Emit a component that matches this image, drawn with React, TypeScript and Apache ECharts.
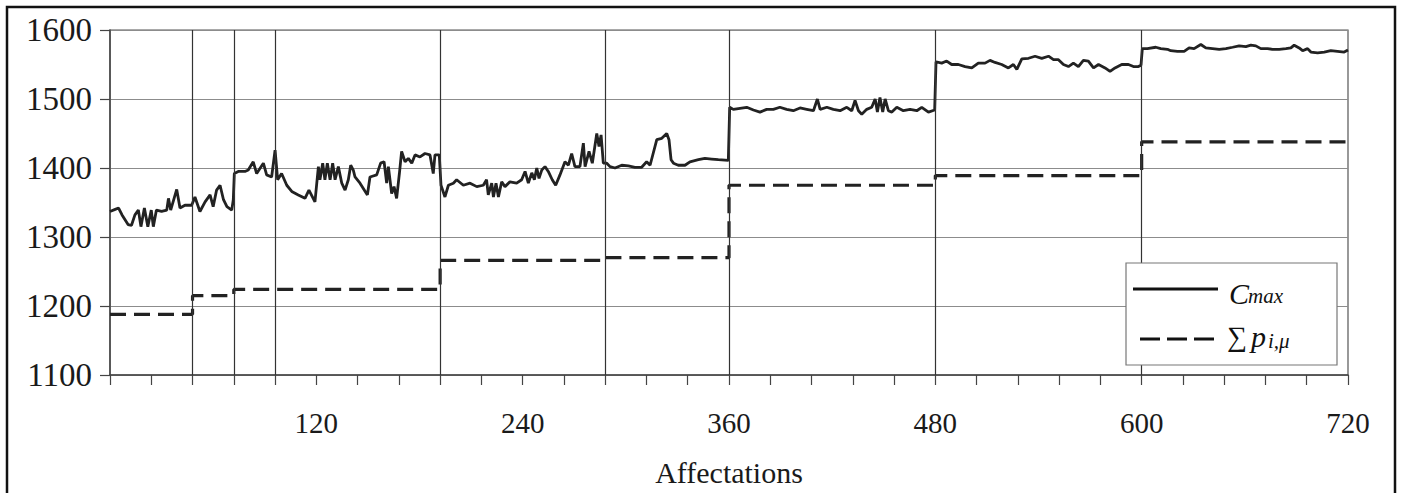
import React, { useEffect, useRef } from "react";
import * as echarts from "echarts";

// C_max curve: x (affectation index) and value
const cmaxX = [
  0, 3, 5, 7, 10.5, 12.5, 14.5, 16.5, 18, 20, 22, 24, 25.2, 27, 30, 33, 34, 35.3, 38.8, 40.7,
  43.6, 47.5, 49.4, 52.3, 55.3, 58.2, 60, 62, 64, 66, 68, 70.8, 71.7, 72.3, 74.6, 78.5, 80.4, 83.3,
  85.3, 89.2, 91.1, 94, 96, 97.5, 99.8, 102.8, 105.7, 109.5, 113.4, 115.7, 119.2, 121.2, 122.1,
  123.7, 125, 126.4, 128, 129.5, 130.9, 132.8, 134.8, 136.7, 138.6, 140, 141.5, 142.5, 145.4,
  149.7, 151.2, 155.1, 157.4, 159.4, 160.9, 161.9, 163.8, 165.2, 166.7, 168.3, 169.6, 171.6,
  173.5, 175.5, 177.4, 180.3, 183.2, 186.1, 188, 189, 191.5, 192.5, 194.8, 196.8, 199.7, 201.6,
  205.5, 209.4, 213.3, 217.1, 219, 220, 222, 223, 224.5, 225.9, 227.8, 229.7, 232.6, 236.5,
  239.4, 241.4, 243.3, 245.3, 246.8, 248.2, 249.5, 251.1, 253, 254.9, 257.2, 259.2, 261.7,
  264.6, 266.6, 268.5, 270.4, 273.3, 275.3, 276.3, 278.6, 280.5, 283.1, 284.4, 285.6, 286.9,
  288.9, 290.8, 293.7, 297.6, 301.5, 305.3, 309.2, 312.1, 314.1, 318, 320.9, 323.8, 325.1,
  326.3, 327.7, 330.5, 334.4, 337.3, 342.2, 346, 349.9, 353.8, 359.6, 360.4, 362.5, 370.3,
  374.2, 378, 381.9, 385.8, 389.6, 393.5, 397.4, 401.3, 405.2, 409.1, 411.4, 413, 416.9, 420.7,
  424.6, 428.5, 431.4, 433.3, 435.3, 437.2, 440.1, 443, 445, 446.3, 447.8, 449.4, 450.8, 452.7,
  454.7, 457.6, 461.4, 465.3, 469.2, 472.1, 476, 479.6, 480.4, 483.7, 486.6, 489.5, 493.4,
  497.3, 501.2, 505, 508.9, 511.8, 514.7, 518.6, 522.5, 525.4, 527.4, 530.3, 534.2, 538, 541.9,
  545.8, 548.7, 551.6, 554.5, 557.4, 560.3, 563.2, 566.1, 569, 572, 574.9, 578.7, 581.6, 584.5,
  588.4, 592.3, 595.2, 598.1, 599.6, 600.4, 603.3, 608.2, 611.1, 615, 616.9, 620.8, 624.7,
  627.6, 630.5, 634.4, 637.3, 641.2, 645.1, 649, 652.9, 656.7, 660.6, 663.5, 666.4, 669.3,
  673.2, 676.1, 680, 683.9, 686.8, 688.7, 691.6, 693.6, 696.5, 698.4, 702.3, 706.2, 710, 713.9,
  717.8, 720,
];
const cmaxY = [
  1337, 1340, 1342, 1332, 1318, 1317, 1332, 1339, 1315, 1342, 1315, 1339, 1315, 1339, 1337, 1339,
  1356, 1339, 1369, 1342, 1346, 1346, 1358, 1337, 1351, 1361, 1344, 1368, 1375, 1354, 1344, 1339,
  1354, 1392, 1395, 1395, 1397, 1409, 1392, 1407, 1390, 1387, 1426, 1383, 1392, 1375, 1366, 1361,
  1356, 1368, 1351, 1402, 1383, 1407, 1383, 1407, 1383, 1407, 1383, 1402, 1378, 1368, 1383, 1404,
  1397, 1387, 1378, 1361, 1387, 1390, 1407, 1409, 1378, 1402, 1363, 1373, 1356, 1392, 1424, 1409,
  1414, 1407, 1419, 1416, 1421, 1419, 1392, 1419, 1419, 1375, 1358, 1375, 1378, 1383, 1375, 1378,
  1373, 1375, 1383, 1361, 1378, 1358, 1378, 1358, 1380, 1373, 1380, 1378, 1383, 1395, 1378, 1393,
  1383, 1400, 1385, 1397, 1402, 1395, 1383, 1375, 1390, 1409, 1404, 1421, 1402, 1402, 1436, 1402,
  1424, 1407, 1450, 1431, 1448, 1407, 1407, 1402, 1400, 1404, 1403, 1401, 1401, 1409, 1404, 1441,
  1443, 1450, 1441, 1412, 1407, 1404, 1404, 1409, 1412, 1414, 1413, 1412, 1411, 1488, 1485, 1488,
  1484, 1481, 1485, 1485, 1488, 1485, 1483, 1487, 1485, 1483, 1500, 1485, 1488, 1485, 1483, 1488,
  1483, 1498, 1483, 1478, 1485, 1488, 1500, 1481, 1502, 1481, 1500, 1483, 1481, 1488, 1483, 1485,
  1483, 1488, 1481, 1484, 1554, 1552, 1555, 1550, 1550, 1547, 1545, 1552, 1552, 1556, 1553, 1550,
  1545, 1550, 1543, 1558, 1559, 1562, 1559, 1562, 1557, 1557, 1550, 1547, 1552, 1547, 1556, 1555,
  1545, 1550, 1545, 1540, 1545, 1550, 1550, 1547, 1547, 1549, 1573, 1573, 1575, 1573, 1572, 1570,
  1569, 1569, 1574, 1573, 1579, 1574, 1573, 1572, 1573, 1575, 1577, 1576, 1578, 1577, 1573, 1573,
  1572, 1572, 1573, 1574, 1578, 1574, 1570, 1573, 1568, 1567, 1568, 1570, 1569, 1568, 1571,
];

// Sum of p_{i,mu}: step levels between breaks
const sumBreaks = [0, 48, 72, 192, 288, 360, 480, 600, 720];
const sumLevels = [1188, 1215, 1224, 1266, 1270, 1375, 1389, 1438];

// Vertical separator lines
const separators = [48, 72, 96, 192, 288, 360, 480, 600];

// Axis ticks
const xLabels = [120, 240, 360, 480, 600, 720];
const yMin = 1100;
const yMax = 1600;
const yStep = 100;

const SERIF = '"Liberation Serif", "Times New Roman", serif';

export default function App() {
  const ref = useRef<HTMLDivElement>(null);

  useEffect(() => {
    if (!ref.current) return;
    const chart = echarts.init(ref.current, null, { renderer: "svg" });

    const cmaxData = cmaxX.map((x, i) => [x, cmaxY[i]]);
    const sumData: number[][] = [];
    sumLevels.forEach((lv, i) => {
      sumData.push([sumBreaks[i], lv]);
      sumData.push([sumBreaks[i + 1], lv]);
    });

    const axisColor = "#444";

    chart.setOption({
      animation: false,
      backgroundColor: "#ffffff",
      grid: {
        left: 110,
        top: 30,
        right: 54,
        bottom: 118,
        show: true,
        borderColor: "#555",
        borderWidth: 1.2,
        backgroundColor: "transparent",
      },
      xAxis: {
        type: "value",
        min: 0,
        max: 720,
        interval: 120,
        axisLine: { show: true, onZero: false, lineStyle: { color: axisColor, width: 1.5 } },
        axisTick: { show: true, length: 10, lineStyle: { color: axisColor, width: 1.2 } },
        minorTick: { show: true, splitNumber: 5, length: 10, lineStyle: { color: axisColor, width: 1.2 } },
        splitLine: { show: false },
        minorSplitLine: { show: false },
        axisLabel: {
          formatter: (v: number) => (xLabels.includes(v) ? String(v) : ""),
          fontFamily: SERIF,
          fontSize: 29,
          color: "#1a1a1a",
          margin: 33,
        },
        name: "Affectations",
        nameLocation: "middle",
        nameGap: 82,
        nameTextStyle: { fontFamily: SERIF, fontSize: 30, color: "#1a1a1a" },
      },
      yAxis: {
        type: "value",
        min: yMin,
        max: yMax,
        interval: yStep,
        axisLine: { show: true, lineStyle: { color: axisColor, width: 1.5 } },
        axisTick: { show: true, length: 10, lineStyle: { color: axisColor, width: 1.2 } },
        splitLine: { show: true, lineStyle: { color: "#8c8c8c", width: 1 } },
        axisLabel: {
          formatter: (v: number) => String(v),
          fontFamily: SERIF,
          fontSize: 33,
          color: "#1a1a1a",
          margin: 18,
        },
      },
      series: [
        {
          name: "sum",
          type: "line",
          data: sumData,
          symbol: "none",
          silent: true,
          lineStyle: { color: "#222", width: 3.2, type: [16, 8] },
          z: 3,
          markLine: {
            silent: true,
            symbol: ["none", "none"],
            label: { show: false },
            lineStyle: { color: "#333", width: 1.2, type: "solid" },
            emphasis: { disabled: true },
            data: separators.map((x) => ({ xAxis: x })),
          },
        },
        {
          name: "cmax",
          type: "line",
          data: cmaxData,
          symbol: "none",
          silent: true,
          lineStyle: { color: "#222", width: 2.8 },
          z: 4,
        },
      ],
      graphic: [
        {
          type: "rect",
          shape: { x: 7, y: 7, width: 1388, height: 530 },
          style: { fill: "none", stroke: "#111", lineWidth: 2.5 },
          silent: true,
          z: 100,
        },
        {
          type: "rect",
          shape: { x: 1126, y: 263, width: 211, height: 102 },
          style: { fill: "#fff", stroke: "#777", lineWidth: 1.2 },
          silent: true,
          z: 50,
        },
        {
          type: "line",
          shape: { x1: 1133, y1: 289, x2: 1218, y2: 289 },
          style: { stroke: "#111", lineWidth: 3 },
          silent: true,
          z: 51,
        },
        {
          type: "line",
          shape: { x1: 1140, y1: 339, x2: 1216, y2: 339 },
          style: { stroke: "#111", lineWidth: 3, lineDash: [20, 7] },
          silent: true,
          z: 51,
        },
        {
          type: "text",
          style: {
            text: "C",
            x: 1229,
            y: 293,
            font: `italic 30px ${SERIF}`,
            fill: "#111",
            verticalAlign: "middle",
          },
          silent: true,
          z: 51,
        },
        {
          type: "text",
          style: {
            text: "max",
            x: 1248,
            y: 296,
            font: `italic 21px ${SERIF}`,
            fill: "#111",
            verticalAlign: "middle",
          },
          silent: true,
          z: 51,
        },
        {
          type: "text",
          style: {
            text: "∑",
            x: 1227,
            y: 336,
            font: `28px ${SERIF}`,
            fill: "#111",
            verticalAlign: "middle",
          },
          silent: true,
          z: 51,
        },
        {
          type: "text",
          style: {
            text: "p",
            x: 1251,
            y: 336,
            font: `italic 30px ${SERIF}`,
            fill: "#111",
            verticalAlign: "middle",
          },
          silent: true,
          z: 51,
        },
        {
          type: "text",
          style: {
            text: "i,μ",
            x: 1268,
            y: 341,
            font: `italic 21px ${SERIF}`,
            fill: "#111",
            verticalAlign: "middle",
          },
          silent: true,
          z: 51,
        },
      ],
    });

    return () => {
      chart.dispose();
    };
  }, []);

  return (
    <div
      ref={ref}
      style={{ position: "absolute", left: 0, top: 0, width: 1402, height: 493, background: "#fff" }}
    />
  );
}
